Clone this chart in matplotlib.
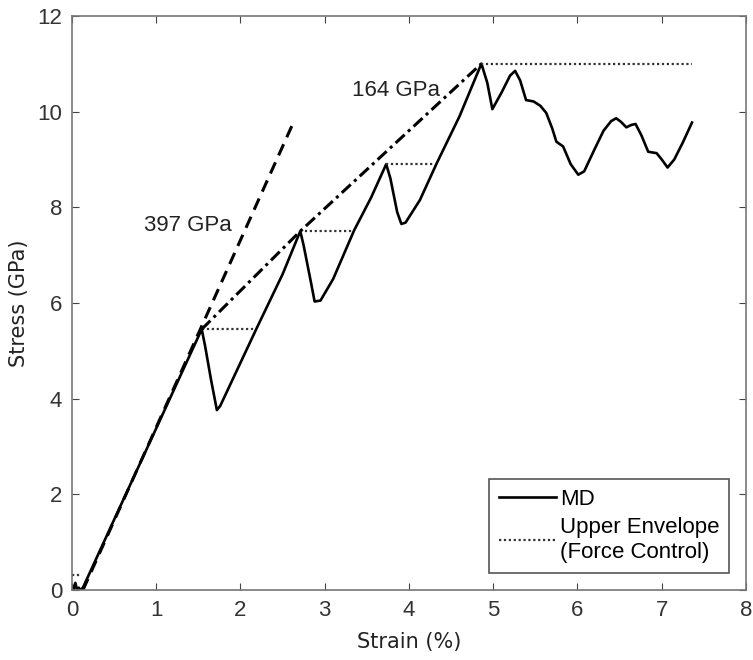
import numpy as np
import matplotlib.pyplot as plt

# MD stress-strain curve (strain in %, stress in GPa)
md_strain = [0.00, 0.02, 0.04, 0.06, 0.08, 0.10, 0.13, 0.50, 1.00, 1.54,
             1.58, 1.65, 1.72, 1.76, 2.00, 2.20, 2.50, 2.71,
             2.75, 2.84, 2.88, 2.95, 3.10, 3.35, 3.55, 3.73,
             3.78, 3.86, 3.91, 3.96, 4.13, 4.33, 4.60, 4.86,
             4.93, 4.99, 5.10, 5.20, 5.26, 5.32, 5.39, 5.48, 5.56, 5.63,
             5.70, 5.75, 5.83, 5.92, 6.01, 6.08, 6.20, 6.31, 6.40, 6.46,
             6.52, 6.58, 6.64, 6.69, 6.76, 6.84, 6.94, 7.00, 7.07, 7.15,
             7.25, 7.36]
md_stress = [0.10, 0.02, 0.15, 0.00, 0.05, 0.00, 0.05, 1.47, 3.38, 5.45,
             5.10, 4.40, 3.76, 3.85, 4.75, 5.50, 6.60, 7.50,
             7.20, 6.40, 6.03, 6.05, 6.50, 7.52, 8.20, 8.90,
             8.60, 7.90, 7.65, 7.68, 8.15, 8.92, 9.90, 11.00,
             10.60, 10.05, 10.40, 10.75, 10.85, 10.65, 10.24, 10.21, 10.12, 9.97,
             9.65, 9.37, 9.27, 8.90, 8.68, 8.75, 9.20, 9.60, 9.80, 9.86,
             9.78, 9.67, 9.72, 9.74, 9.50, 9.16, 9.13, 9.00, 8.83, 9.00,
             9.35, 9.77]

# upper envelope (force control): horizontal plateaus
env_y = [0.31, 5.45, 7.50, 8.90, 11.00]
env_x0 = [0.00, 1.54, 2.71, 3.73, 4.86]
env_x1 = [0.10, 2.17, 3.35, 4.30, 7.36]

# slope guide lines
steep_x = [0.13, 2.61]
steep_y = [0.00, 9.70]
secant_x = [1.54, 2.71, 4.86]
secant_y = [5.45, 7.50, 11.00]

fig = plt.figure(figsize=(7.53, 6.60), dpi=100)
ax = fig.add_axes([0.0956, 0.106, 0.895, 0.870])

ax.plot(md_strain, md_stress, color='black', lw=1.9, label='MD')
for i in range(len(env_y)):
    ax.plot([env_x0[i], env_x1[i]], [env_y[i], env_y[i]], color='#333333',
            lw=1.6, ls=(0, (1, 1.2)),
            label='Upper Envelope\n(Force Control)' if i == 0 else None)
ax.plot(steep_x, steep_y, color='black', lw=2.2, ls=(0, (4, 2.5)))
ax.plot(secant_x, secant_y, color='black', lw=2.2, ls=(0, (4, 1.5, 1, 1.5)))

ax.text(0.86, 7.61, '397 GPa', fontsize=16, family='Liberation Sans',
        va='center', color='#222222')
ax.text(3.32, 10.45, '164 GPa', fontsize=16, family='Liberation Sans',
        va='center', color='#222222')

ax.set_xlim(0, 8)
ax.set_ylim(0, 12)
ax.set_xticks(range(0, 9))
ax.set_yticks(range(0, 13, 2))
ax.tick_params(direction='in', top=True, right=True, length=5,
               labelsize=16, colors='#444444', labelcolor='#333333', pad=7)
for lab in ax.get_xticklabels() + ax.get_yticklabels():
    lab.set_family('Liberation Sans')
for sp in ax.spines.values():
    sp.set_color('#777777')
    sp.set_linewidth(1.2)

ax.set_xlabel('Strain (%)', fontsize=15, color='#222222', labelpad=8)
ax.set_ylabel('Stress (GPa)', fontsize=15, color='#222222', labelpad=6)

leg = ax.legend(loc='lower right', prop={'family': 'Liberation Sans', 'size': 16},
                fancybox=False, edgecolor='#555555', framealpha=1,
                handlelength=2.6, handletextpad=0.15, borderpad=0.45,
                labelspacing=0.3, borderaxespad=0.75)
leg.get_frame().set_linewidth(1.2)
for t in leg.get_texts():
    t.set_linespacing(1.3)

fig.savefig('out.png', dpi=100)
